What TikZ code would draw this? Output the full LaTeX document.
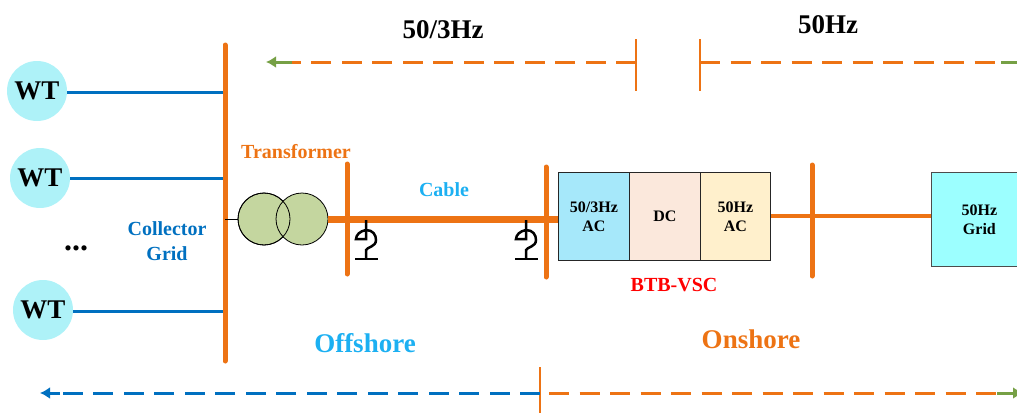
\documentclass[tikz,border=0pt]{standalone}
\usepackage{fontspec}
\setmainfont{Liberation Serif}
\usetikzlibrary{arrows.meta}
\definecolor{busor}{HTML}{ED7314}
\definecolor{wtblue}{HTML}{AEF2F8}
\definecolor{linkblue}{HTML}{0070C0}
\definecolor{skyb}{HTML}{1CB0F2}
\definecolor{trgreen}{HTML}{C4D69F}
\definecolor{arrgreen}{HTML}{76A045}
\definecolor{acone}{HTML}{A6E8FA}
\definecolor{dcfill}{HTML}{FBE8DC}
\definecolor{actwo}{HTML}{FFF0CC}
\definecolor{gridfill}{HTML}{9CFFFF}
\tikzset{
  x=1pt,y=-1pt,
  bus/.style={line width=5pt,draw=busor,line cap=round},
  feeder/.style={line width=3pt,draw=linkblue},
  wtnode/.style={circle,fill=wtblue,minimum size=60pt,inner sep=0pt,font=\fontsize{27}{27}\selectfont\bfseries},
  trcoil/.style={circle,draw=black,line width=.8pt,minimum size=52pt,inner sep=0pt},
  vscbox/.style={draw=black!85,line width=.8pt,anchor=north west,minimum height=88pt,inner sep=0pt,align=center,font=\fontsize{16}{19}\selectfont\bfseries},
  lab/.style={inner sep=0pt,align=center,font=\fontsize{#1}{25}\selectfont\bfseries},
  lab/.default=20,
  rangeline/.style={draw=busor,line width=3pt,dash pattern=on 20pt off 10.5pt},
  tiparrow/.style={line width=3pt,-{Latex[length=10pt,width=12pt]}},
  tick/.style={draw=busor,line width=2pt},
  shunt/.style={draw=black,line width=2.5pt},
}
\begin{document}
\begin{tikzpicture}
\useasboundingbox (0,0) rectangle (1017,413);
% turbines
\node[wtnode] (wt1) at (37,91) {WT};
\node[wtnode] (wt2) at (40,178) {WT};
\node[wtnode] (wt3) at (43,310) {WT};
\node[lab=32] (dots) at (76,248) {...};
% buses
\coordinate (b1t) at (225,45); \coordinate (b1b) at (225,361);
\coordinate (b2t) at (347,164); \coordinate (b2b) at (347,274);
\coordinate (b3t) at (546,167); \coordinate (b3b) at (546,277);
\coordinate (b4t) at (812,165); \coordinate (b4b) at (812,276);
% feeders
\coordinate (f1) at (225,92); \coordinate (f2) at (225,178); \coordinate (f3) at (225,311);
\draw[feeder] (wt1.east |- f1) -- (f1);
\draw[feeder] (wt2.east |- f2) -- (f2);
\draw[feeder] (wt3.east |- f3) -- (f3);
\draw[bus] (b1t) -- (b1b);
% VSC
\node[vscbox,fill=acone,minimum width=71pt] (ac1) at (558,172) {50/3Hz\\AC};
\node[vscbox,fill=dcfill,minimum width=71pt] (dc) at (629,172) {DC};
\node[vscbox,fill=actwo,minimum width=70pt] (ac2) at (700,172) {50Hz\\AC};
\node[draw=black!70,line width=.8pt,fill=gridfill,anchor=north west,minimum width=90pt,minimum height=94pt,inner sep=0pt,align=center,font=\fontsize{16}{19}\selectfont\bfseries,text width=96pt] (grid) at (931,172) {50Hz\\Grid};
% transformer
\coordinate (hv) at (225,219);
\node[trcoil,fill=trgreen] (t1) at (264,219) {};
\node[trcoil,fill=trgreen] (t2) at (302,219) {};
\draw[line width=.8pt] (264,219) circle (26pt);
\draw[line width=.8pt] (hv) -- (t1.west);
% lines
\draw[line width=7pt,draw=busor] (t2.east) -- (ac1.west |- t2.east);
\draw[line width=4pt,draw=busor] (ac2.east |- 0,216) -- (grid.west |- 0,216);
\draw[bus] (b2t) -- (b2b);
\draw[bus] (b3t) -- (b3b);
\draw[bus] (b4t) -- (b4b);
% shunt symbols
\foreach \sx in {366,526}{
  \draw[shunt] (\sx,220) -- (\sx,230) .. controls (\sx+7,230) and (\sx+10,235) .. (\sx+10,240)
     .. controls (\sx+10,247) and (\sx+1,247) .. (\sx,250) -- (\sx,259);
  \draw[shunt] (\sx,230) .. controls (\sx-6,231) and (\sx-10,235) .. (\sx-10,239) -- (\sx,239) -- (\sx,231);
  \draw[shunt] (\sx-11,259) -- (\sx+12,259);
}
% top range
\coordinate (ta) at (266,62); \coordinate (tb) at (636,62); \coordinate (tc) at (700,62); \coordinate (td) at (1017,62);
\draw[tick] (636,39) -- (636,91);
\draw[tick] (700,39) -- (700,91);
\draw[rangeline] (tb) -- (292,62);
\draw[tiparrow,draw=arrgreen,fill=arrgreen] (292,62) -- (ta);
\draw[rangeline] (tc) -- (1001,62);
\draw[draw=arrgreen,line width=3pt] (1001,62) -- (td);
% bottom range
\coordinate (ba) at (40,393); \coordinate (bm) at (540,393); \coordinate (bz) at (1023,393);
\draw[tick] (540,367) -- (540,413);
\draw[rangeline,draw=linkblue] (bm) -- (60,393);
\draw[tiparrow,draw=linkblue,fill=linkblue] (60,393) -- (ba);
\draw[rangeline,dash phase=0pt] (549,393) -- (997,393);
\draw[tiparrow,draw=arrgreen,fill=arrgreen] (997,393) -- (bz);
% labels
\node[lab=27] (t50a) at (443,30) {50/3Hz};
\node[lab=27] (t50b) at (828,25) {50Hz};
\node[lab=20,text=busor] (ltr) at (296,152) {Transformer};
\node[lab=20,text=skyb] (lcb) at (444,190) {Cable};
\node[lab=20,text=linkblue] (lcg) at (167,241) {Collector\\Grid};
\node[lab=20,text=red] (lbtb) at (674,285) {BTB-VSC};
\node[lab=27,text=skyb] (loff) at (365,343) {Offshore};
\node[lab=27,text=busor] (lon) at (751,339) {Onshore};
\end{tikzpicture}
\end{document}
